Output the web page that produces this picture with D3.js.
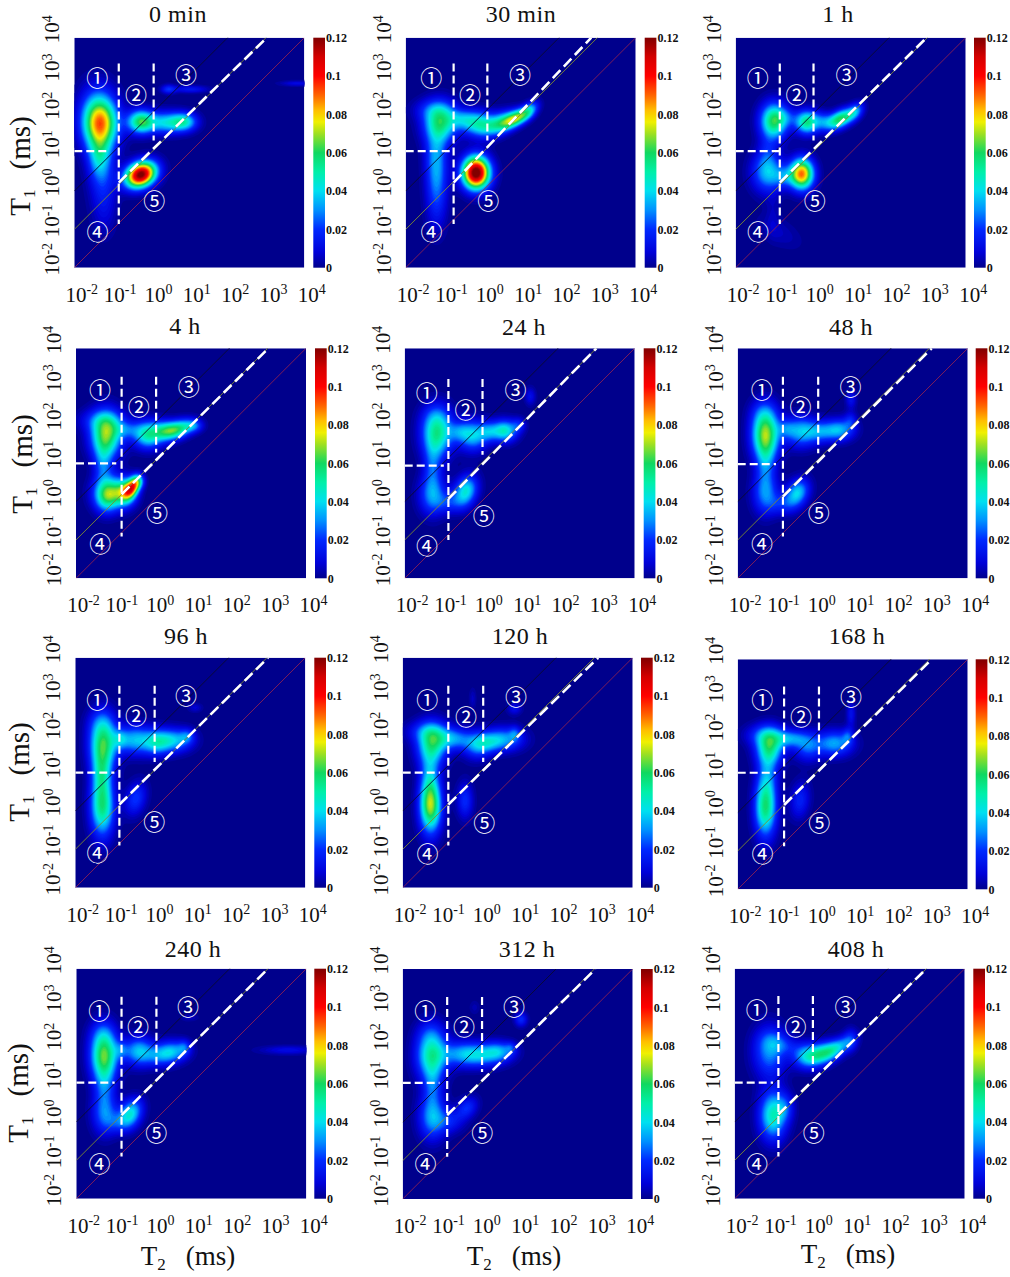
<!DOCTYPE html>
<html>
<head>
<meta charset="utf-8">
<style>
	html, body { margin: 0; padding: 0; background: #fff; }
	svg { display: block; }
	text { font-family: "Liberation Serif", serif; fill: #111; }
</style>
<script src="https://cdn.jsdelivr.net/npm/d3@7"></script>
</head>
<body>
<div id="chart"></div>
<script>
// panel names, reading order
var titles = ["0 min", "30 min", "1 h", "4 h", "24 h", "48 h", "96 h", "120 h", "168 h", "240 h", "312 h", "408 h"];

var tickExponents = [-2, -1, 0, 1, 2, 3, 4];
var barTicks = [0, 0.02, 0.04, 0.06, 0.08, 0.1, 0.12];
var regionMarks = ["①", "②", "③", "④", "⑤"];
var guideRatios = [1, 10, 100]; // T1/T2 of the thin diagonals

// colour bar
var colorValues = [0, 0.008, 0.02, 0.03, 0.04, 0.05, 0.06, 0.07, 0.076, 0.082, 0.09, 0.1, 0.11, 0.12];
var colorNames = ["#00008c", "#0000d8", "#0028ff", "#0090ff", "#00e0f0", "#00f0a8", "#10d860", "#a0e020", "#f0f000", "#ffc000", "#ff6400", "#ff0000", "#d40000", "#800000"];

// dashed region cuts, log10 ms
var cutT2a = [-0.84, -0.75, -0.85, -0.81, -0.86, -0.82, -0.85, -0.81, -0.79, -0.82, -0.84, -0.86];
var cutT2b = [0.07, 0.13, 0.03, 0.09, 0.03, 0.1, 0.07, 0.1, 0.12, 0.09, 0.07, 0.04];
var cutT1 = [1.04, 1.04, 1.04, 1, 0.94, 0.98, 1, 1, 1.04, 1.03, 1.03, 1.03];
var cutTop = [3.33, 3.33, 3.33, 3.26, 3.2, 3.26, 3.27, 3.27, 3.29, 3.27, 3.27, 3.29];
var cutBottom = [-0.86, -0.86, -0.86, -0.91, -1, -0.91, -0.9, -0.9, -0.88, -0.9, -0.9, -0.9];
var diagStartT1 = [0.22, 0.22, 0.22, 0.19, 0.07, 0.13, 0.17, 0.17, 0.2, 0.18, 0.19, 0.2];
var diagEndT2 = [3.02, 2.84, 2.98, 3.02, 3, 3.06, 3.03, 3.1, 3.06, 3, 3.03, 3];
var cutT1End = [-1.07, -0.75, -0.85, -0.95, -0.98, -1, -0.98, -1.03, -1, -1, -1.04, -1];

// peaks: [log10 T2, log10 T1, height, spread T2, spread T1, lean]
var peaks0min = [
	[-1.35, 1.72, 0.086, 0.19, 0.29, 0], [-1.45, 2.2, 0.012, 0.2, 0.3, 0], [-1.38, 0.85, 0.024, 0.12, 0.22, 0],
	[-1.3, 0.45, 0.018, 0.15, 0.32, 0], [-1.25, -0.45, 0.01, 0.14, 0.32, 0],
	[-0.29, 1.78, 0.06, 0.15, 0.13, 0], [0.4, 1.76, 0.04, 0.22, 0.12, 0], [0.85, 1.78, 0.036, 0.14, 0.1, 0],
	[0.43, 2.63, 0.02, 0.08, 0.05, 0], [1, 2.63, 0.016, 0.2, 0.04, 0],
	[-0.29, 0.4, 0.125, 0.17, 0.14, 0.2], [3.8, 2.78, 0.012, 0.2, 0.03, 0]
];
var peaks30min = [
	[-1.13, 1.75, 0.055, 0.18, 0.22, 0], [-1.3, 2.1, 0.014, 0.22, 0.12, 0],
	[-0.55, 1.85, 0.024, 0.16, 0.11, 0], [-0.1, 1.72, 0.045, 0.18, 0.14, 0], [0.45, 1.75, 0.042, 0.17, 0.12, 0.3],
	[0.85, 1.87, 0.062, 0.15, 0.09, 0.4], [1.2, 2.07, 0.032, 0.1, 0.09, 0.5],
	[-1.25, 1, 0.014, 0.12, 0.25, 0], [-1.22, 0.4, 0.028, 0.12, 0.36, 0], [-1.22, -0.5, 0.01, 0.12, 0.32, 0],
	[-0.19, 0.45, 0.13, 0.15, 0.18, 0]
];
var peaks1h = [
	[-1.03, 1.8, 0.062, 0.15, 0.2, 0], [-0.7, 1.9, 0.012, 0.12, 0.1, 0], [-0.17, 1.77, 0.056, 0.13, 0.13, 0],
	[0.25, 1.8, 0.02, 0.11, 0.1, 0], [0.7, 1.85, 0.062, 0.15, 0.1, 0.35], [1.1, 2.05, 0.028, 0.09, 0.09, 0.4],
	[-1.2, 1, 0.01, 0.1, 0.2, 0], [-1.2, 0.47, 0.036, 0.17, 0.22, 0], [-0.75, 0.35, 0.02, 0.13, 0.12, 0],
	[-0.3, 0.42, 0.09, 0.13, 0.17, 0], [-0.9, -1.1, 0.006, 0.25, 0.16, -0.4], [-1.05, -0.6, 0.005, 0.08, 0.25, 0]
];
var peaks4h = [
	[-1.24, 1.72, 0.066, 0.17, 0.25, 0], [-1.35, 2.1, 0.016, 0.25, 0.12, 0], [-0.7, 1.85, 0.018, 0.16, 0.1, 0],
	[-0.15, 1.72, 0.05, 0.16, 0.15, 0], [0.3, 1.82, 0.034, 0.14, 0.11, 0], [0.65, 1.87, 0.052, 0.17, 0.1, 0.2],
	[1.05, 1.95, 0.02, 0.1, 0.07, 0], [-1.32, 0.95, 0.022, 0.1, 0.24, 0],
	[-1.15, 0.2, 0.058, 0.17, 0.18, 0], [-0.72, 0.22, 0.05, 0.12, 0.15, 0], [-0.56, 0.34, 0.07, 0.09, 0.1, 0.5],
	[-0.42, 0.52, 0.03, 0.07, 0.08, 0], [-1.25, 0, 0.016, 0.12, 0.16, 0]
];
var peaks24h = [
	[-1.18, 1.75, 0.052, 0.17, 0.26, 0], [-1.2, 2.2, 0.01, 0.16, 0.16, 0], [-0.6, 1.8, 0.018, 0.12, 0.11, 0],
	[-0.25, 1.7, 0.038, 0.16, 0.17, 0], [0.15, 1.8, 0.022, 0.11, 0.11, 0], [0.57, 1.82, 0.047, 0.14, 0.12, 0],
	[0.95, 1.98, 0.015, 0.08, 0.08, 0], [-1.3, 0.9, 0.02, 0.1, 0.28, 0],
	[-1.3, 0.15, 0.03, 0.15, 0.22, 0], [-0.85, -0.05, 0.015, 0.16, 0.12, 0], [-0.43, 0.25, 0.044, 0.13, 0.17, 0.3],
	[1.25, 2.72, 0.013, 0.06, 0.1, 0]
];
var peaks48h = [
	[-1.3, 1.72, 0.07, 0.15, 0.28, 0], [-1.35, 2.3, 0.01, 0.15, 0.16, 0], [-0.75, 1.88, 0.015, 0.1, 0.1, 0],
	[-0.38, 1.8, 0.034, 0.18, 0.17, 0], [0.15, 1.8, 0.026, 0.18, 0.12, 0], [0.65, 1.85, 0.032, 0.16, 0.12, 0],
	[0.92, 2.1, 0.014, 0.07, 0.09, 0], [-1.3, 0.95, 0.018, 0.1, 0.24, 0], [-1.3, 0.2, 0.03, 0.14, 0.23, 0],
	[-0.85, -0.1, 0.015, 0.16, 0.12, 0], [-0.47, 0.2, 0.04, 0.13, 0.15, 0.3], [0.93, 2.65, 0.014, 0.06, 0.11, 0]
];
var peaks96h = [
	[-1.3, 1.72, 0.06, 0.15, 0.3, 0], [-1.35, 2.3, 0.01, 0.15, 0.16, 0], [-0.85, 1.85, 0.017, 0.08, 0.1, 0],
	[-0.47, 1.83, 0.036, 0.2, 0.16, 0], [0.1, 1.76, 0.032, 0.15, 0.14, 0], [0.55, 1.82, 0.036, 0.2, 0.13, 0],
	[0.9, 1.93, 0.016, 0.08, 0.08, 0], [-1.35, 0.95, 0.026, 0.1, 0.24, 0], [-1.32, 0.1, 0.057, 0.13, 0.33, 0],
	[-0.45, 0.3, 0.022, 0.12, 0.18, 0.4], [1.1, 2.67, 0.009, 0.08, 0.05, 0]
];
var peaks120h = [
	[-1.27, 1.7, 0.052, 0.16, 0.23, 0], [-1.35, 2.05, 0.018, 0.24, 0.12, 0], [-0.7, 1.85, 0.03, 0.2, 0.12, 0],
	[-0.1, 1.68, 0.027, 0.15, 0.15, 0], [0.2, 1.75, 0.02, 0.15, 0.11, 0], [0.6, 1.85, 0.033, 0.22, 0.13, 0],
	[0.9, 2, 0.015, 0.06, 0.08, 0], [-1.33, 0.9, 0.02, 0.1, 0.24, 0], [-1.3, 0.12, 0.072, 0.12, 0.3, 0],
	[-0.4, 0.25, 0.02, 0.09, 0.2, 0], [0.89, 2.65, 0.013, 0.08, 0.07, 0], [-0.2, 2.9, 0.007, 0.04, 0.12, 0]
];
var peaks168h = [
	[-1.2, 1.68, 0.052, 0.15, 0.2, 0], [-1.3, 2, 0.02, 0.22, 0.12, 0], [-0.65, 1.9, 0.028, 0.18, 0.1, 0],
	[-0.2, 1.7, 0.025, 0.15, 0.16, 0], [0.5, 1.78, 0.034, 0.2, 0.14, 0], [0.85, 1.97, 0.017, 0.06, 0.09, 0],
	[-1.25, 0.95, 0.02, 0.11, 0.26, 0], [-1.3, 0.1, 0.057, 0.12, 0.32, 0], [-0.4, 0.3, 0.018, 0.11, 0.2, 0.3],
	[0.93, 2.55, 0.014, 0.05, 0.15, 0]
];
var peaks240h = [
	[-1.3, 1.72, 0.065, 0.15, 0.28, 0], [-1.35, 2.3, 0.01, 0.14, 0.16, 0], [-0.85, 1.85, 0.015, 0.08, 0.1, 0],
	[-0.4, 1.82, 0.036, 0.16, 0.16, 0], [0.15, 1.7, 0.024, 0.18, 0.12, 0], [0.5, 1.83, 0.03, 0.17, 0.12, 0],
	[0.8, 1.93, 0.016, 0.07, 0.08, 0], [-1.3, 0.95, 0.018, 0.11, 0.24, 0], [-1.28, 0.2, 0.028, 0.14, 0.23, 0],
	[-0.85, -0.05, 0.015, 0.16, 0.12, 0], [-0.6, 0.22, 0.041, 0.13, 0.15, 0.3], [0.92, 2.7, 0.007, 0.1, 0.04, 0],
	[3.5, 1.85, 0.012, 0.32, 0.05, 0]
];
var peaks312h = [
	[-1.27, 1.72, 0.05, 0.17, 0.27, 0], [-1.3, 2.3, 0.01, 0.15, 0.16, 0], [-0.45, 1.76, 0.03, 0.24, 0.14, 0],
	[0.1, 1.72, 0.025, 0.24, 0.13, 0], [0.5, 1.83, 0.026, 0.17, 0.11, 0], [0.8, 1.93, 0.013, 0.06, 0.06, 0],
	[-1.25, 0.95, 0.018, 0.1, 0.24, 0], [-1.25, 0.12, 0.034, 0.15, 0.25, 0], [-0.8, 0, 0.015, 0.16, 0.13, 0],
	[-0.35, 0.35, 0.02, 0.12, 0.12, 0.3], [1.06, 2.66, 0.02, 0.07, 0.08, 0], [-0.15, 2.97, 0.005, 0.06, 0.08, 0]
];
var peaks408h = [
	[-1.12, 1.8, 0.03, 0.18, 0.28, 0], [-1, 2.1, 0.01, 0.16, 0.12, 0], [-0.7, 1.95, 0.01, 0.16, 0.1, 0],
	[-0.15, 1.7, 0.036, 0.16, 0.14, 0], [0.3, 1.77, 0.045, 0.17, 0.12, 0.2], [0.7, 1.95, 0.028, 0.16, 0.1, 0.4],
	[1, 2.12, 0.014, 0.08, 0.13, 0], [-1.03, 0.15, 0.048, 0.15, 0.27, 0], [-0.7, 0.35, 0.015, 0.1, 0.16, 0]
];
var allPeaks = [peaks0min, peaks30min, peaks1h, peaks4h, peaks24h, peaks48h, peaks96h, peaks120h, peaks168h, peaks240h, peaks312h, peaks408h];

// page layout, one entry per panel
var svgWidth = 1010;
var svgHeight = 1277;
var plotSize = 230;
var plotLeft = [74.3, 405.7, 735.7, 76, 404.7, 737.7, 75.3, 402.7, 737.7, 76.3, 402.7, 734.7];
var plotTop = [37.7, 37.7, 37.7, 348.3, 348.3, 348.3, 657.7, 657.7, 659.3, 968.7, 969, 968.7];
var barLeft = [313.3, 644.7, 974, 315, 643.7, 975.7, 314.3, 641, 975.7, 314.3, 641, 973.3];
var titleX = [178, 521, 838, 185, 524, 851, 186, 520, 857, 193, 527, 856];
var titleY = [22, 22, 22, 334, 334.5, 334.5, 644, 644, 644, 956.5, 956.5, 956.5];
var markShiftX = [0, 2.5, -1, 1, -1, 1, -1, 1.5, 1.5, 0, -0.5, -1];
var markShiftY = [0, 0, 0, 1.5, 4, 1.5, 1.5, 2, 0.5, 1.5, 1, 1];
var markX = [23, 61.7, 111.7, 23.3, 80];
var markY = [40.7, 57.3, 37.3, 194, 163.3];
var barWidth = 11.7;

var x = d3.scaleLog().domain([1e-2, 1e4]).range([0, plotSize]);
var y = d3.scaleLog().domain([1e-2, 1e4]).range([plotSize, 0]);
var color = d3.scaleLinear().domain(colorValues).range(colorNames).clamp(true);
var barScale = d3.scaleLinear().domain([0, 0.12]).range([plotSize, 0]);

var gridSize = 115;
var levels = d3.range(0.002, 0.1201, 0.002);
var spreadGain = 1.6; // spreads above are close to half widths of the cyan core

var svg = d3.select("#chart")
	.append("svg")
	.attr("width", svgWidth)
	.attr("height", svgHeight);

var defs = svg.append("defs");
var gradient = defs.append("linearGradient")
	.attr("id", "jet")
	.attr("x1", 0).attr("y1", 1).attr("x2", 0).attr("y2", 0);
colorValues.forEach(function(v, i) {
	gradient.append("stop")
		.attr("offset", v / 0.12)
		.attr("stop-color", colorNames[i]);
});

// amplitude grid from the peaks read for one panel
function buildField(peaks) {
	var values = new Array(gridSize * gridSize);
	for (var j = 0; j < gridSize; j++) {
		for (var i = 0; i < gridSize; i++) {
			var u = -2 + 6 * i / (gridSize - 1);
			var v = -2 + 6 * j / (gridSize - 1);
			var total = 0;
			peaks.forEach(function(p) {
				var du = (u - p[0]) / (p[3] * spreadGain);
				var dv = (v - p[1] - p[5] * (u - p[0])) / (p[4] * spreadGain);
				total += p[2] * Math.exp(-0.5 * (du * du + dv * dv));
			});
			values[j * gridSize + i] = total;
		}
	}
	return values;
}

var contourPath = d3.geoPath(d3.geoTransform({
	point: function(px, py) {
		this.stream.point(
			x(Math.pow(10, -2 + 6 * px / (gridSize - 1))),
			y(Math.pow(10, -2 + 6 * py / (gridSize - 1)))
		);
	}
}));

function pow10(e) {
	return Math.pow(10, e);
}

// "10" with a raised exponent
function powerLabel(text) {
	text.text(null);
	text.append("tspan").text("10");
	text.append("tspan")
		.attr("dy", "-0.55em")
		.attr("font-size", 14)
		.text(function(d) { return Math.round(Math.log10(d)); });
}

function drawPanel(index) {
	var g = svg.append("g")
		.attr("transform", "translate(" + plotLeft[index] + "," + plotTop[index] + ")");

	defs.append("clipPath")
		.attr("id", "clip" + index)
		.append("rect")
		.attr("width", plotSize)
		.attr("height", plotSize);

	var map = g.append("g").attr("clip-path", "url(#clip" + index + ")");

	map.append("rect")
		.attr("width", plotSize)
		.attr("height", plotSize)
		.attr("fill", color(0));

	var contours = d3.contours()
		.size([gridSize, gridSize])
		.thresholds(levels)(buildField(allPeaks[index]));

	map.selectAll("path.level")
		.data(contours)
		.enter().append("path")
		.attr("class", "level")
		.attr("d", contourPath)
		.attr("fill", function(d) { return color(d.value); });

	// thin diagonals
	var guide = d3.line()
		.x(function(d) { return x(d[0]); })
		.y(function(d) { return y(d[1]); });
	var guideColors = ["#8a1f55", "#7f8a30", "#0a0a30"];
	guideRatios.forEach(function(r, i) {
		map.append("path")
			.attr("d", guide([[1e-2, 1e-2 * r], [1e4, 1e4 * r]]))
			.attr("fill", "none")
			.attr("stroke", guideColors[i])
			.attr("stroke-width", 0.9);
	});

	// dashed region cuts
	var cuts = [
		[[cutT2a[index], cutTop[index]], [cutT2a[index], cutBottom[index]]],
		[[cutT2b[index], cutTop[index]], [cutT2b[index], cutT1[index] + 0.28]],
		[[-2, cutT1[index]], [cutT1End[index], cutT1[index]]]
	];
	map.selectAll("path.cut")
		.data(cuts)
		.enter().append("path")
		.attr("class", "cut")
		.attr("d", function(d) { return guide(d.map(function(p) { return [pow10(p[0]), pow10(p[1])]; })); })
		.attr("fill", "none")
		.attr("stroke", "#fff")
		.attr("stroke-width", 2.2)
		.attr("stroke-dasharray", "8,4");

	map.append("path")
		.attr("d", guide([[pow10(cutT2a[index]), pow10(diagStartT1[index])], [pow10(diagEndT2[index]), 1e4]]))
		.attr("fill", "none")
		.attr("stroke", "#fff")
		.attr("stroke-width", 2.6)
		.attr("stroke-dasharray", "11,5");

	// region numbers
	g.selectAll("text.mark")
		.data(regionMarks)
		.enter().append("text")
		.attr("class", "mark")
		.attr("x", function(d, i) { return markX[i] + markShiftX[index]; })
		.attr("y", function(d, i) { return markY[i] + markShiftY[index]; })
		.attr("dy", "0.36em")
		.attr("text-anchor", "middle")
		.style("font-family", "'Noto Sans CJK JP', 'DejaVu Sans', sans-serif")
		.style("fill", "#fff")
		.attr("font-size", 22)
		.text(function(d) { return d; });

	// axes
	var xAxis = g.append("g")
		.attr("transform", "translate(0," + plotSize + ")")
		.call(d3.axisBottom(x).tickValues(tickExponents.map(pow10)).tickSize(0).tickFormat(""));
	xAxis.select(".domain").remove();
	xAxis.selectAll(".tick text")
		.attr("y", 34)
		.attr("dy", 0)
		.attr("dx", 7)
		.attr("font-size", 21)
		.call(powerLabel);

	var yAxis = g.append("g")
		.call(d3.axisLeft(y).tickValues(tickExponents.map(pow10)).tickSize(0).tickFormat(""));
	yAxis.select(".domain").remove();
	yAxis.selectAll(".tick text")
		.attr("x", 0)
		.attr("dy", 0)
		.attr("text-anchor", "middle")
		.attr("font-size", 21)
		.attr("transform", "translate(-15,-9) rotate(-90)")
		.call(powerLabel);

	// colour bar
	var bar = svg.append("g")
		.attr("transform", "translate(" + barLeft[index] + "," + plotTop[index] + ")");
	bar.append("rect")
		.attr("width", barWidth)
		.attr("height", plotSize)
		.attr("fill", "url(#jet)");
	var barAxis = bar.append("g")
		.attr("transform", "translate(" + barWidth + ",0)")
		.call(d3.axisRight(barScale).tickValues(barTicks).tickSize(0).tickPadding(1).tickFormat(function(d) { return String(d); }));
	barAxis.select(".domain").remove();
	barAxis.selectAll(".tick text")
		.attr("font-size", 12)
		.attr("font-weight", "bold");

	// panel title
	svg.append("text")
		.attr("x", titleX[index])
		.attr("y", titleY[index])
		.attr("text-anchor", "middle")
		.attr("font-size", 24)
		.attr("letter-spacing", 0.5)
		.text(titles[index]);
}

titles.forEach(function(t, i) { drawPanel(i); });

// axis titles
var t1Labels = [[30, 166], [32, 464], [29, 772], [28, 1093]];
t1Labels.forEach(function(pos) {
	var label = svg.append("text")
		.attr("transform", "translate(" + pos[0] + "," + pos[1] + ") rotate(-90)")
		.attr("text-anchor", "middle")
		.attr("font-size", 29);
	label.append("tspan").text("T");
	label.append("tspan").attr("font-size", 17).attr("dy", 5).text("1");
	label.append("tspan").attr("dy", -5).attr("dx", 20).text("(ms)");
});

var t2Labels = [[188, 1265], [514, 1265], [848, 1263]];
t2Labels.forEach(function(pos) {
	var label = svg.append("text")
		.attr("x", pos[0])
		.attr("y", pos[1])
		.attr("text-anchor", "middle")
		.attr("font-size", 27);
	label.append("tspan").text("T");
	label.append("tspan").attr("font-size", 17).attr("dy", 5).text("2");
	label.append("tspan").attr("dy", -5).attr("dx", 20).text("(ms)");
});
</script>
</body>
</html>
